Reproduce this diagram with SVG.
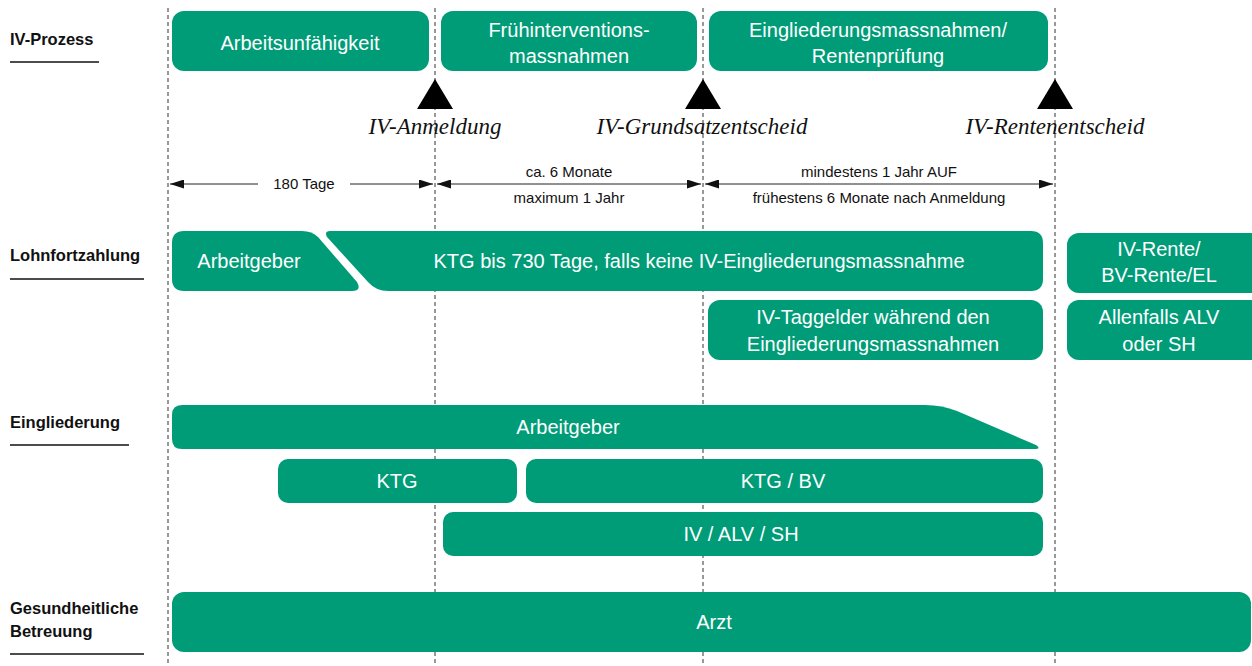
<svg xmlns="http://www.w3.org/2000/svg" width="1252" height="666" viewBox="0 0 1252 666">
<defs>
<marker id="ah" viewBox="0 0 14 9" refX="14" refY="4.5" markerWidth="14" markerHeight="9" markerUnits="userSpaceOnUse" orient="auto-start-reverse">
<path d="M0,0 L14,4.5 L0,9 z" fill="#111"/>
</marker>
</defs>
<style>
.bg{fill:#ffffff}
.box{fill:#009c78}
.bt{fill:#ffffff;font-family:"Liberation Sans","DejaVu Sans",sans-serif;font-size:20px;text-anchor:middle}
.lab{fill:#111;font-family:"Liberation Sans","DejaVu Sans",sans-serif;font-size:16.5px;font-weight:bold}
.ul{stroke:#111;stroke-width:1.5}
.dash{stroke:#333;stroke-width:1;stroke-dasharray:4 3;fill:none}
.dim{stroke:#222;stroke-width:1;fill:none}
.dt{fill:#111;font-family:"Liberation Sans","DejaVu Sans",sans-serif;font-size:15px;text-anchor:middle}
.ms{fill:#111;font-family:"Liberation Serif","DejaVu Serif",serif;font-style:italic;font-size:23px;text-anchor:middle}
.tri{fill:#000}
</style>
<rect class="bg" x="0" y="0" width="1252" height="666"/>

<g id="gridlines">
<line class="dash" x1="168" y1="8" x2="168" y2="666"/>
<line class="dash" x1="435" y1="8" x2="435" y2="666"/>
<line class="dash" x1="703" y1="8" x2="703" y2="666"/>
<line class="dash" x1="1055" y1="8" x2="1055" y2="666"/>
</g>

<g id="row-labels">
<text class="lab" x="10" y="45">IV-Prozess</text>
<line class="ul" x1="10" y1="62" x2="99" y2="62"/>
<text class="lab" x="10" y="261">Lohnfortzahlung</text>
<line class="ul" x1="10" y1="279" x2="144" y2="279"/>
<text class="lab" x="10" y="428">Eingliederung</text>
<line class="ul" x1="10" y1="445" x2="129" y2="445"/>
<text class="lab" x="10" y="614">Gesundheitliche</text>
<text class="lab" x="10" y="637">Betreuung</text>
<line class="ul" x1="10" y1="654" x2="144" y2="654"/>
</g>

<g id="n-arbeitsunfaehigkeit">
<rect class="box" x="172" y="11" width="257" height="60" rx="12"/>
<text class="bt" x="300" y="50">Arbeitsunfähigkeit</text>
</g>
<g id="n-fruehintervention">
<rect class="box" x="441" y="11" width="256" height="60" rx="12"/>
<text class="bt" x="569" y="37">Frühinterventions-</text>
<text class="bt" x="569" y="63">massnahmen</text>
</g>
<g id="n-eingliederung-rente">
<rect class="box" x="709" y="11" width="339" height="60" rx="12"/>
<text class="bt" x="878" y="37">Eingliederungsmassnahmen/</text>
<text class="bt" x="878" y="63">Rentenprüfung</text>
</g>

<g id="m-anmeldung">
<polygon class="tri" points="435,79 453,109 417,109"/>
<text class="ms" x="435" y="134">IV-Anmeldung</text>
</g>
<g id="m-grundsatzentscheid">
<polygon class="tri" points="703,79 721,109 685,109"/>
<text class="ms" x="702" y="134">IV-Grundsatzentscheid</text>
</g>
<g id="m-rentenentscheid">
<polygon class="tri" points="1055,79 1073,109 1037,109"/>
<text class="ms" x="1055" y="134">IV-Rentenentscheid</text>
</g>

<g id="connectors">
<line class="dim" x1="258" y1="184" x2="170" y2="184" marker-end="url(#ah)"/>
<line class="dim" x1="350" y1="184" x2="433" y2="184" marker-end="url(#ah)"/>
<line class="dim" x1="437" y1="184" x2="701" y2="184" marker-start="url(#ah)" marker-end="url(#ah)"/>
<line class="dim" x1="705" y1="184" x2="1053" y2="184" marker-start="url(#ah)" marker-end="url(#ah)"/>
</g>
<g id="dim-labels">
<text class="dt" x="304" y="189">180 Tage</text>
<text class="dt" x="569" y="177">ca. 6 Monate</text>
<text class="dt" x="569" y="203">maximum 1 Jahr</text>
<text class="dt" x="879" y="177">mindestens 1 Jahr AUF</text>
<text class="dt" x="879" y="203">frühestens 6 Monate nach Anmeldung</text>
</g>

<g id="n-lf-arbeitgeber">
<path class="box" d="M184,231 H302 Q312,231 318,237 L357,282 Q362,291 352,291 H184 Q172,291 172,279 V243 Q172,231 184,231 Z"/>
<text class="bt" x="249" y="268">Arbeitgeber</text>
</g>
<g id="n-lf-ktg">
<path class="box" d="M330,231 H1031 Q1043,231 1043,243 V279 Q1043,291 1031,291 H388 Q376,291 368,282 L327,237 Q324,231 330,231 Z"/>
<text class="bt" x="699" y="268">KTG bis 730 Tage, falls keine IV-Eingliederungsmassnahme</text>
</g>
<g id="n-lf-rente">
<rect class="box" x="1067" y="233" width="197" height="60" rx="12"/>
<text class="bt" x="1159" y="256">IV-Rente/</text>
<text class="bt" x="1159" y="282">BV-Rente/EL</text>
</g>
<g id="n-lf-taggelder">
<rect class="box" x="708" y="300" width="335" height="60" rx="12"/>
<text class="bt" x="873" y="324">IV-Taggelder während den</text>
<text class="bt" x="873" y="351">Eingliederungsmassnahmen</text>
</g>
<g id="n-lf-alv">
<rect class="box" x="1067" y="300" width="197" height="60" rx="12"/>
<text class="bt" x="1159" y="324">Allenfalls ALV</text>
<text class="bt" x="1159" y="351">oder SH</text>
</g>

<g id="n-eg-arbeitgeber">
<path class="box" d="M182,405 H925 Q942,405 957,411 L1036,445 Q1042,449 1034,449 H182 Q172,449 172,439 V415 Q172,405 182,405 Z"/>
<text class="bt" x="568" y="434">Arbeitgeber</text>
</g>
<g id="n-eg-ktg">
<rect class="box" x="278" y="459" width="239" height="44" rx="10"/>
<text class="bt" x="397" y="488">KTG</text>
</g>
<g id="n-eg-ktgbv">
<rect class="box" x="526" y="459" width="517" height="44" rx="10"/>
<text class="bt" x="783" y="488">KTG / BV</text>
</g>
<g id="n-eg-iv">
<rect class="box" x="443" y="512" width="600" height="44" rx="10"/>
<text class="bt" x="741" y="541">IV / ALV / SH</text>
</g>

<g id="n-arzt">
<rect class="box" x="172" y="592" width="1079" height="60" rx="12"/>
<text class="bt" x="714" y="629">Arzt</text>
</g>
</svg>
